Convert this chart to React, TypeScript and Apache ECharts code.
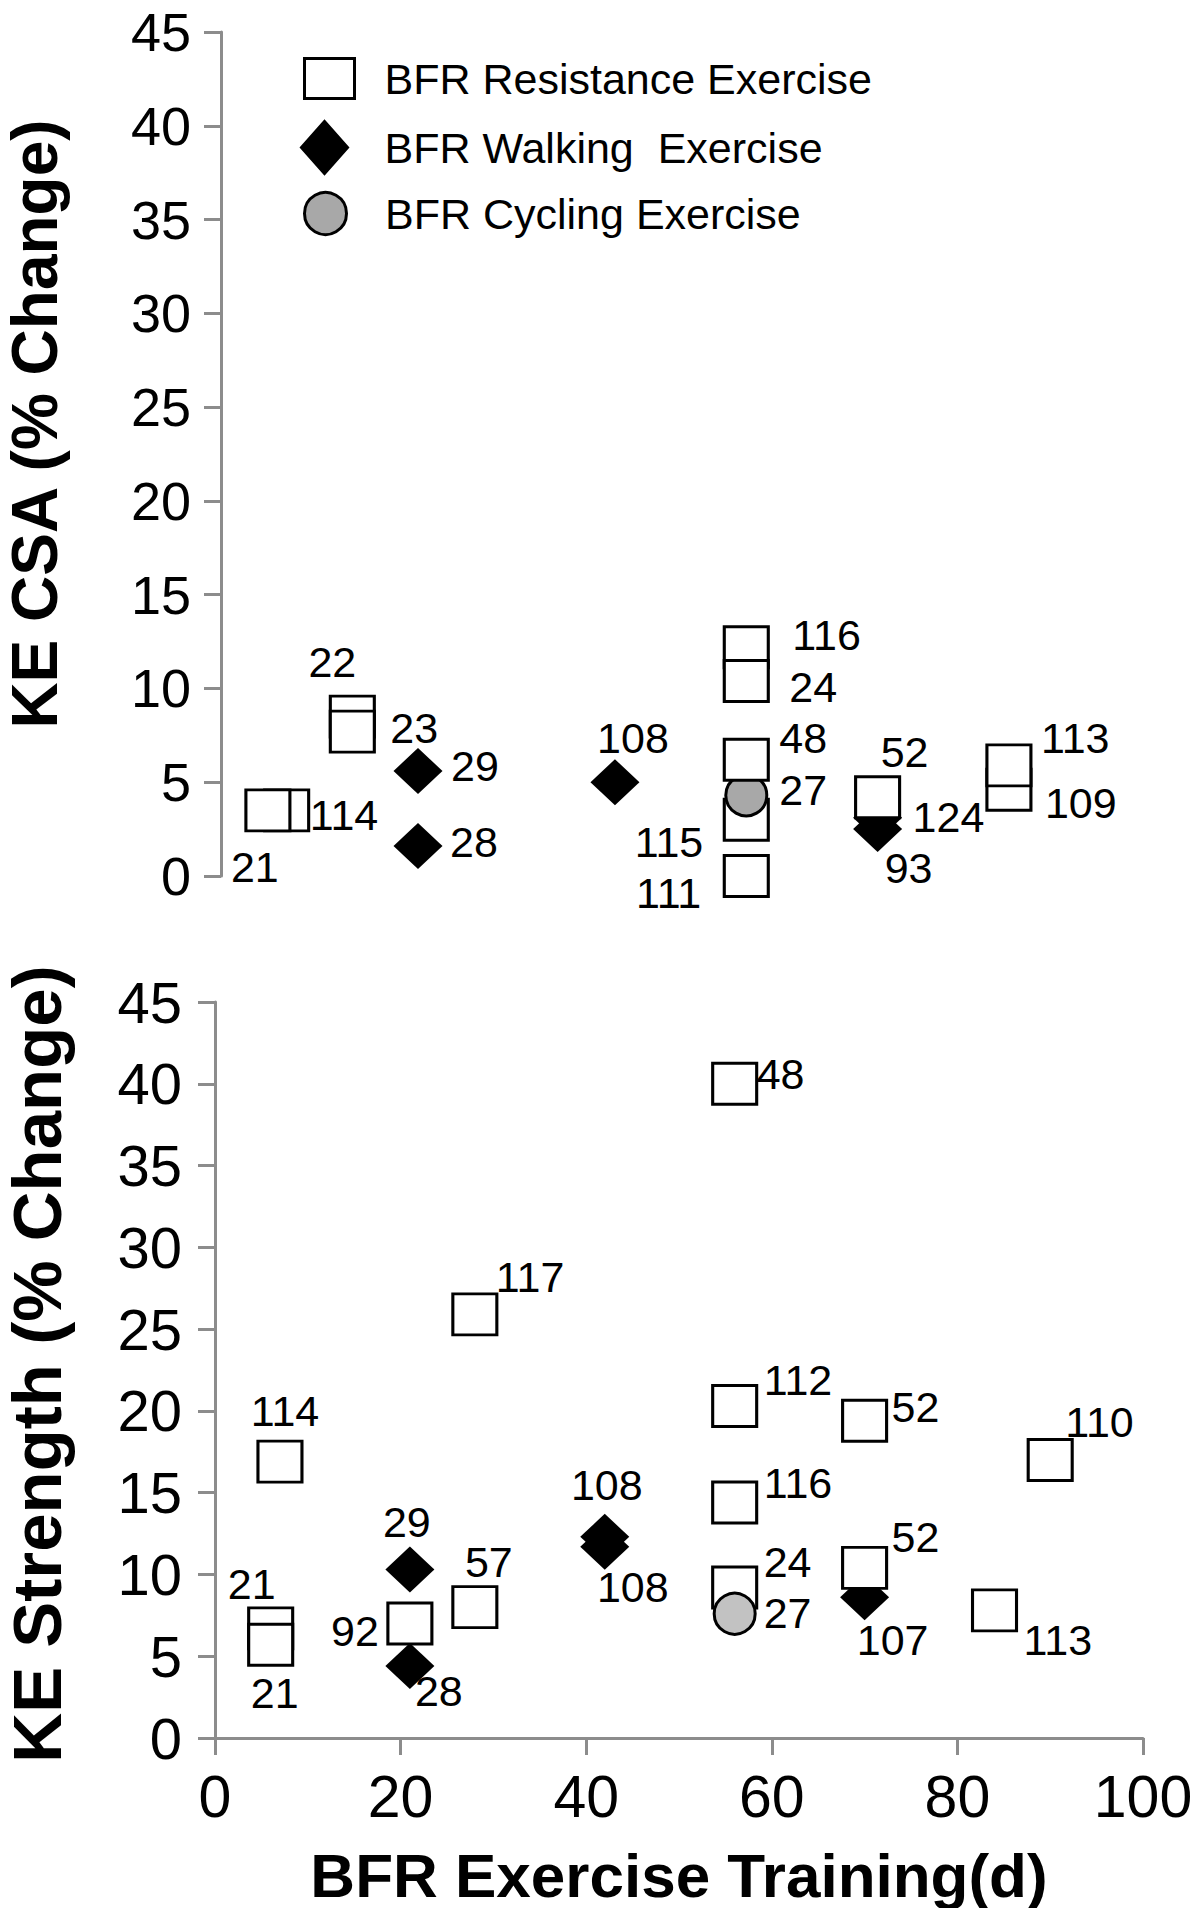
import React, { useEffect, useRef } from "react";
import * as echarts from "echarts";

const FONT = "'Liberation Sans', Arial, Helvetica, sans-serif";

const RES = "BFR Resistance Exercise";
const WALK = "BFR Walking  Exercise";
const CYC = "BFR Cycling Exercise";

// ---------- Top panel: KE CSA (% Change) ----------
const CSA_RES_DAYS = [7, 5, 14, 14, 56, 56, 56, 56, 70, 84, 84];
const CSA_RES_VALUES = [3.5, 3.5, 8.5, 7.7, 12.2, 10.4, 3.0, 0.0, 4.2, 4.6, 5.9];
const CSA_RES_REFS = ["114", "21", "22", "23", "116", "24", "115", "111", "52", "109", "113"];
// resistance square drawn above the cycling circle
const CSA_RES_TOP_DAYS = [56];
const CSA_RES_TOP_VALUES = [6.2];
const CSA_RES_TOP_REFS = ["48"];
const CSA_WALK_DAYS = [21, 21, 42, 70, 70];
const CSA_WALK_VALUES = [5.6, 1.6, 5.0, 3.1, 2.5];
const CSA_WALK_REFS = ["29", "28", "108", "124", "93"];
const CSA_CYC_DAYS = [56];
const CSA_CYC_VALUES = [4.3];
const CSA_CYC_REFS = ["27"];

// ---------- Bottom panel: KE Strength (% Change) ----------
const STR_RES_DAYS = [7, 6, 6, 21, 28, 28, 56, 56, 56, 56, 70, 70, 90, 84];
const STR_RES_VALUES = [16.9, 6.7, 5.7, 7.0, 8.0, 25.9, 40.0, 20.3, 14.4, 9.2, 19.4, 10.4, 17.0, 7.8];
const STR_RES_REFS = ["114", "21", "21", "92", "57", "117", "48", "112", "116", "24", "52", "52", "110", "113"];
const STR_WALK_DAYS = [21, 21, 42, 42, 70];
const STR_WALK_VALUES = [10.3, 4.4, 12.3, 11.7, 8.6];
const STR_WALK_REFS = ["29", "28", "108", "108", "107"];
const STR_CYC_DAYS = [56];
const STR_CYC_VALUES = [7.6];
const STR_CYC_REFS = ["27"];

// axis ticks
const X_MIN = 0, X_MAX = 100, X_STEP = 20;
const Y_MIN = 0, Y_MAX = 45, Y_STEP = 5;

// label placement (dx, dy from marker centre, text alignment)
type Place = [number, number, string];
const CSA_RES_PLACE: Place[] = [
  [23, 5, "left"], [-37, 57, "left"], [-20, -55, "center"], [38, -4, "left"],
  [46, -12, "left"], [43, 6, "left"], [-43, 22, "right"], [-45, 17, "right"],
  [27, -45, "center"], [36, 13, "left"], [32, -27, "left"],
];
const CSA_RES_TOP_PLACE: Place[] = [[33, -22, "left"]];
const CSA_WALK_PLACE: Place[] = [
  [33, -5, "left"], [32, -4, "left"], [18, -44, "center"], [35, -1, "left"], [31, 39, "center"],
];
const CSA_CYC_PLACE: Place[] = [[33, -5, "left"]];
const STR_RES_PLACE: Place[] = [
  [5, -51, "center"], [-19, -44, "center"], [4, 48, "center"], [-31, 7, "right"],
  [14, -45, "center"], [21, -37, "left"], [22, -10, "left"], [29, -26, "left"],
  [29, -19, "left"], [29, -26, "left"], [27, -14, "left"], [27, -31, "left"],
  [15, -38, "left"], [29, 30, "left"],
];
const STR_WALK_PLACE: Place[] = [
  [-3, -48, "center"], [5, 25, "left"], [2, -52, "center"], [28, 40, "center"], [28, 43, "center"],
];
const STR_CYC_PLACE: Place[] = [[29, -1, "left"]];

const AXIS_COLOR = "#8c8c8c";
const SQUARE = [44, 41];
const DIAMOND = [49, 46];
const CIRCLE = [41, 41];
const LABEL_SIZE = 43;

function makeSeries(
  name: string,
  idx: number,
  days: number[],
  vals: number[],
  refs: string[],
  places: Place[],
  symbol: string,
  size: number[],
  fill: string,
  border: number,
  z: number
) {
  return {
    type: "scatter",
    name,
    xAxisIndex: idx,
    yAxisIndex: idx,
    z,
    clip: false,
    symbol,
    symbolSize: size,
    itemStyle: { color: fill, borderColor: "#000", borderWidth: border, opacity: 1 },
    emphasis: { disabled: true },
    label: {
      show: true,
      color: "#000",
      fontSize: LABEL_SIZE,
      fontFamily: FONT,
      textBorderWidth: 0,
    },
    data: days.map((d, i) => ({
      value: [d, vals[i]],
      label: {
        show: true,
        formatter: refs[i],
        position: "inside",
        align: places[i][2],
        verticalAlign: "middle",
        offset: [places[i][0], places[i][1]],
      },
    })),
  };
}

function makeLegend(name: string, icon: string, left: number, top: number, w: number, h: number, pad: number) {
  return {
    orient: "vertical",
    left,
    top,
    padding: 0,
    itemWidth: w,
    itemHeight: h,
    selectedMode: false,
    textStyle: { fontSize: 43, fontFamily: FONT, color: "#000", padding: [0, 0, 0, pad] },
    itemStyle: { borderWidth: 3, borderColor: "#000" },
    data: [{ name, icon }],
  };
}

export default function App() {
  const ref = useRef<HTMLDivElement>(null);

  useEffect(() => {
    if (!ref.current) return;
    const chart = echarts.init(ref.current, undefined, { renderer: "svg" });

    const yAxisCommon = (fontSize: number, margin: number) => ({
      type: "value",
      min: Y_MIN,
      max: Y_MAX,
      interval: Y_STEP,
      axisLine: { show: true, lineStyle: { color: AXIS_COLOR, width: 3 } },
      axisTick: { show: true, inside: false, length: 17, lineStyle: { color: AXIS_COLOR, width: 3 } },
      axisLabel: { color: "#000", fontSize, fontFamily: FONT, margin },
      splitLine: { show: false },
    });

    const option: any = {
      animation: false,
      backgroundColor: "#fff",
      textStyle: { fontFamily: FONT },
      grid: [
        { left: 221, top: 32, width: 938, height: 844 },
        { left: 215, top: 1002, width: 928, height: 736 },
      ],
      xAxis: [
        { gridIndex: 0, type: "value", min: X_MIN, max: X_MAX, interval: X_STEP, show: false },
        {
          gridIndex: 1,
          type: "value",
          min: X_MIN,
          max: X_MAX,
          interval: X_STEP,
          axisLine: { show: true, lineStyle: { color: AXIS_COLOR, width: 3 } },
          axisTick: { show: true, inside: false, length: 17, lineStyle: { color: AXIS_COLOR, width: 3 } },
          axisLabel: { color: "#000", fontSize: 59, fontFamily: FONT, margin: 29 },
          splitLine: { show: false },
        },
      ],
      yAxis: [
        { gridIndex: 0, ...yAxisCommon(54, 30) },
        { gridIndex: 1, ...yAxisCommon(58, 33) },
      ],
      legend: [
        makeLegend(RES, "rect", 303, 57, 50, 40, 25),
        makeLegend(WALK, "diamond", 300, 120, 46, 52, 32),
        makeLegend(CYC, "circle", 303, 191, 49, 42, 30),
      ],
      graphic: [
        {
          type: "text",
          x: 35,
          y: 424,
          rotation: Math.PI / 2,
          style: {
            text: "KE CSA (% Change)",
            fontSize: 64,
            fontWeight: "bold",
            fontFamily: FONT,
            fill: "#000",
            align: "center",
            verticalAlign: "middle",
          },
        },
        {
          type: "text",
          x: 37,
          y: 1364,
          rotation: Math.PI / 2,
          style: {
            text: "KE Strength (% Change)",
            fontSize: 69,
            fontWeight: "bold",
            fontFamily: FONT,
            fill: "#000",
            align: "center",
            verticalAlign: "middle",
          },
        },
        {
          type: "text",
          x: 679,
          y: 1875,
          style: {
            text: "BFR Exercise Training(d)",
            fontSize: 62,
            fontWeight: "bold",
            fontFamily: FONT,
            fill: "#000",
            align: "center",
            verticalAlign: "middle",
          },
        },
      ],
      series: [
        // top panel
        makeSeries(WALK, 0, CSA_WALK_DAYS, CSA_WALK_VALUES, CSA_WALK_REFS, CSA_WALK_PLACE, "diamond", DIAMOND, "#000", 0, 2),
        makeSeries(RES, 0, CSA_RES_DAYS, CSA_RES_VALUES, CSA_RES_REFS, CSA_RES_PLACE, "rect", SQUARE, "#fff", 3, 3),
        makeSeries(CYC, 0, CSA_CYC_DAYS, CSA_CYC_VALUES, CSA_CYC_REFS, CSA_CYC_PLACE, "circle", CIRCLE, "#a8a8a8", 3, 4),
        makeSeries(RES, 0, CSA_RES_TOP_DAYS, CSA_RES_TOP_VALUES, CSA_RES_TOP_REFS, CSA_RES_TOP_PLACE, "rect", SQUARE, "#fff", 3, 5),
        // bottom panel
        makeSeries(WALK, 1, STR_WALK_DAYS, STR_WALK_VALUES, STR_WALK_REFS, STR_WALK_PLACE, "diamond", DIAMOND, "#000", 0, 2),
        makeSeries(RES, 1, STR_RES_DAYS, STR_RES_VALUES, STR_RES_REFS, STR_RES_PLACE, "rect", SQUARE, "#fff", 3, 3),
        makeSeries(CYC, 1, STR_CYC_DAYS, STR_CYC_VALUES, STR_CYC_REFS, STR_CYC_PLACE, "circle", CIRCLE, "#c2c2c2", 3, 4),
      ],
    };

    chart.setOption(option);
    return () => chart.dispose();
  }, []);

  return (
    <div
      ref={ref}
      style={{ position: "absolute", left: 0, top: 0, width: 1200, height: 1908, background: "#fff" }}
    />
  );
}
